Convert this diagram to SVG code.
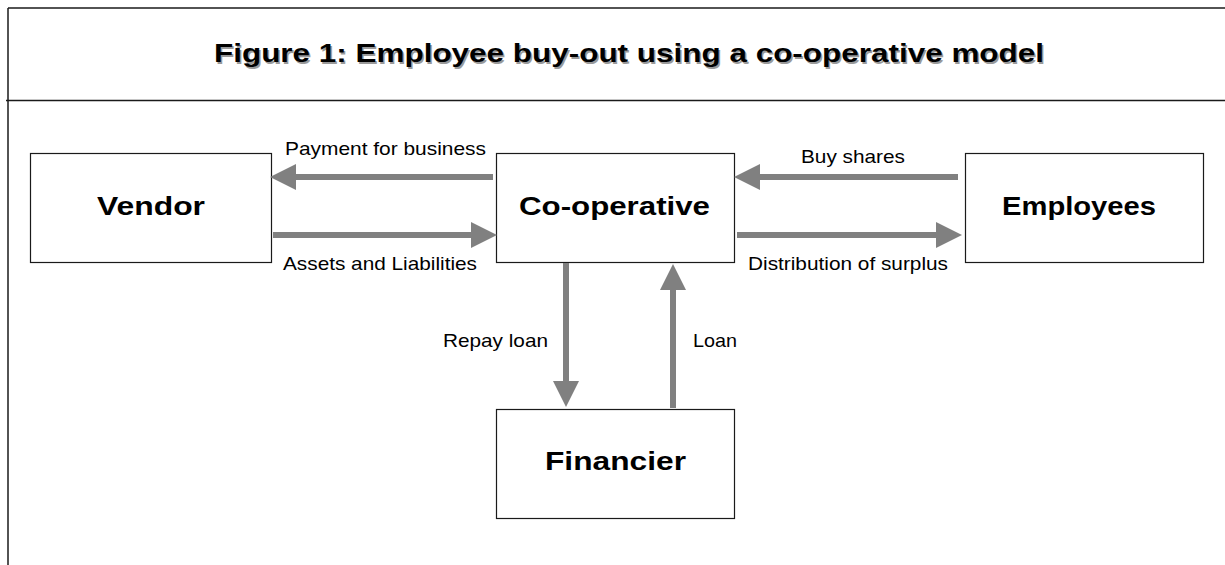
<svg xmlns="http://www.w3.org/2000/svg" width="1225" height="565" viewBox="0 0 1225 565">
  <style>
    .frame { stroke: #1a1a1a; stroke-width: 1.5; fill: none; }
    .box { fill: #ffffff; stroke: #1a1a1a; stroke-width: 1.2; }
    .node-label { font-family: "Liberation Sans", Arial, sans-serif; font-weight: bold; font-size: 25px; fill: #000000; text-anchor: start; }
    .flow-label { font-family: "Liberation Sans", Arial, sans-serif; font-size: 19px; fill: #000000; }
    .title { font-family: "Liberation Sans", Arial, sans-serif; font-weight: bold; font-size: 25.5px; }
    .flow { stroke: #808080; stroke-width: 6; fill: none; marker-end: url(#head); }
  </style>
  <defs>
    <marker id="head" markerUnits="userSpaceOnUse" markerWidth="26" markerHeight="26" viewBox="0 0 26 26" refX="6" refY="13" orient="auto">
      <path d="M0,0 L26,13 L0,26 Z" fill="#808080"/>
    </marker>
  </defs>

  <rect width="1225" height="565" fill="#ffffff"/>

  <!-- page frame and title band -->
  <g id="frame">
    <line class="frame" x1="8" y1="8" x2="1225" y2="8"/>
    <line class="frame" x1="8" y1="8" x2="8" y2="565"/>
    <line class="frame" x1="6" y1="100.5" x2="1225" y2="100.5"/>
  </g>

  <g id="title">
    <text class="title" x="215.5" y="63.5" textLength="830" lengthAdjust="spacingAndGlyphs" fill="#9a9a9a">Figure 1: Employee buy-out using a co-operative model</text>
    <text class="title" x="214" y="62" textLength="830" lengthAdjust="spacingAndGlyphs" fill="#000000">Figure 1: Employee buy-out using a co-operative model</text>
  </g>

  <g id="vendor">
    <rect class="box" x="30.5" y="153.5" width="241" height="109"/>
    <text class="node-label" x="97" y="215" textLength="108" lengthAdjust="spacingAndGlyphs">Vendor</text>
  </g>

  <g id="cooperative">
    <rect class="box" x="496.5" y="153.5" width="238" height="109"/>
    <text class="node-label" x="519" y="215" textLength="191" lengthAdjust="spacingAndGlyphs">Co-operative</text>
  </g>

  <g id="employees">
    <rect class="box" x="965.5" y="153.5" width="238" height="109"/>
    <text class="node-label" x="1002" y="215" textLength="154" lengthAdjust="spacingAndGlyphs">Employees</text>
  </g>

  <g id="financier">
    <rect class="box" x="496.5" y="409.5" width="238" height="109"/>
    <text class="node-label" x="545" y="470" textLength="141" lengthAdjust="spacingAndGlyphs">Financier</text>
  </g>

  <!-- money and asset flows -->
  <g id="connectors">
    <line class="flow" x1="493" y1="177" x2="290" y2="177"/>
    <line class="flow" x1="273" y1="235" x2="477" y2="235"/>
    <line class="flow" x1="958" y1="177" x2="754" y2="177"/>
    <line class="flow" x1="737" y1="235" x2="942" y2="235"/>
    <line class="flow" x1="566" y1="263" x2="566" y2="387"/>
    <line class="flow" x1="673" y1="408" x2="673" y2="284"/>

    <text class="flow-label" x="285" y="155" textLength="201" lengthAdjust="spacingAndGlyphs">Payment for business</text>
    <text class="flow-label" x="283" y="270" textLength="194" lengthAdjust="spacingAndGlyphs">Assets and Liabilities</text>
    <text class="flow-label" x="801" y="163" textLength="104" lengthAdjust="spacingAndGlyphs">Buy shares</text>
    <text class="flow-label" x="748" y="270" textLength="200" lengthAdjust="spacingAndGlyphs">Distribution of surplus</text>
    <text class="flow-label" x="443" y="347" textLength="105" lengthAdjust="spacingAndGlyphs">Repay loan</text>
    <text class="flow-label" x="693" y="347" textLength="44" lengthAdjust="spacingAndGlyphs">Loan</text>
  </g>
</svg>
